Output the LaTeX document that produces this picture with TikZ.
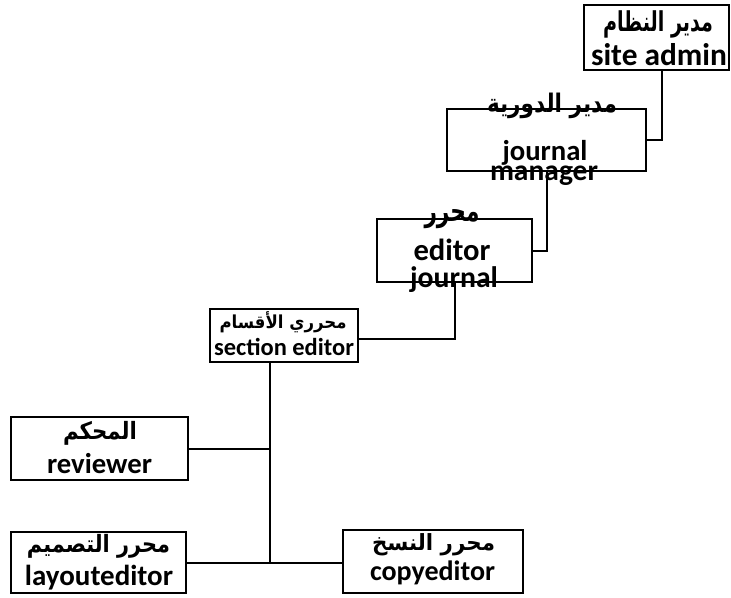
\documentclass[tikz,border=0pt]{standalone}
\usepackage{graphicx}
\usepackage{fontspec}
\setmainfont{Carlito}
\newfontfamily\arabicfont[Script=Arabic]{DejaVu Sans}
\TeXXeTstate=1
\newcommand\lttxt[2]{\resizebox{#1}{!}{\bfseries #2}}
\begin{document}
\begin{tikzpicture}[x=0.75pt,y=-0.75pt,
  box/.style={draw,line width=1.5pt,inner sep=0pt,rectangle},
  conn/.style={line width=1.5pt},
  txt/.style={anchor=base,inner sep=0pt}]
\fill[white] (0,0) rectangle (731,597);
\useasboundingbox (0,0) rectangle (731,597);

% boxes
\node[box,minimum width=108.75pt,minimum height=48.75pt] (sa) at (656.5,37.5) {};
\node[box,minimum width=149.25pt,minimum height=46.5pt] (jm) at (546.5,140) {};
\node[box,minimum width=116.25pt,minimum height=47.25pt] (ed) at (454.5,250.5) {};
\node[box,minimum width=111pt,minimum height=39.75pt] (se) at (284,335.5) {};
\node[box,minimum width=132.75pt,minimum height=47.25pt] (rv) at (99.5,448.5) {};
\node[box,minimum width=131.25pt,minimum height=45.75pt] (le) at (98.5,562.5) {};
\node[box,minimum width=135pt,minimum height=47.25pt] (ce) at (433,561.5) {};

% texts
\node[txt] (sa1) at (658,31) {\resizebox{82.5pt}{15.6pt}{\arabicfont\bfseries\beginR مدير النظام\endR}};
\node[txt] (sa2) at (659,65) {\lttxt{102pt}{site admin}};
\node[txt] (jm1) at (552,112) {\resizebox{97.5pt}{14.6pt}{\arabicfont\bfseries\beginR مدير الدورية\endR}};
\node[txt] (jm2) at (545,160) {\lttxt{63.75pt}{journal}};
\node[txt] (jm3) at (544,180) {\lttxt{81pt}{manager}};
\node[txt] (ed1) at (452,221) {\resizebox{41.25pt}{9pt}{\arabicfont\bfseries\beginR محرر\endR}};
\node[txt] (ed2) at (452,260) {\lttxt{57.75pt}{editor}};
\node[txt] (ed3) at (454,287) {\lttxt{66pt}{journal}};
\node[txt] (se1) at (283,328) {\resizebox{95.25pt}{12.7pt}{\arabicfont\bfseries\beginR محرري الأقسام\endR}};
\node[txt] (se2) at (284,355) {\lttxt{105pt}{section editor}};
\node[txt] (rv1) at (100,439) {\resizebox{55.5pt}{13.6pt}{\arabicfont\bfseries\beginR المحكم\endR}};
\node[txt] (rv2) at (99.5,473) {\lttxt{78.75pt}{reviewer}};
\node[txt] (le1) at (98.5,552) {\resizebox{107.25pt}{13.6pt}{\arabicfont\bfseries\beginR محرر التصميم\endR}};
\node[txt] (le2) at (99,585) {\lttxt{111pt}{layouteditor}};
\node[txt] (ce1) at (433.5,550) {\resizebox{92.25pt}{12.7pt}{\arabicfont\bfseries\beginR محرر النسخ\endR}};
\node[txt] (ce2) at (432.5,580) {\lttxt{93.75pt}{copyeditor}};

% connectors
\draw[conn] ([xshift=4.125pt]sa.south) |- (jm.east);
\draw[conn] (jm.south) |- (ed.east);
\draw[conn] (ed.south) |- ([yshift=-2.6pt]se.east);
\coordinate (jb) at ([xshift=-10.5pt]se.south |- le.east);
\draw[conn] ([xshift=-10.5pt]se.south) -- (jb);
\draw[conn] (rv.east) -- (rv.east -| jb);
\draw[conn] (le.east) -- (le.east -| ce.west);
\end{tikzpicture}
\end{document}
